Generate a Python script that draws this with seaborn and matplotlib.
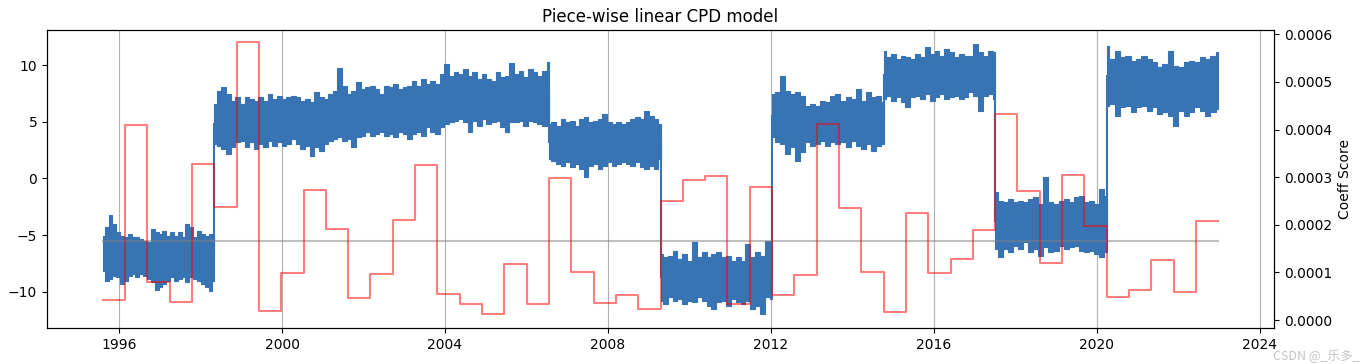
import numpy as np
import pandas as pd
import matplotlib
matplotlib.use("Agg")
import matplotlib.pyplot as plt
import matplotlib.dates as mdates
import seaborn as sns

# ---------------- data ----------------
start_date = "1995-08-08"
window_days = 200
n_windows = 50

# Coeff score per 200-day window (right axis)
coeff_score = [0.000042, 0.000409, 0.000080, 0.000038, 0.000328, 0.000238, 0.000583,
               0.000019, 0.000099, 0.000273, 0.000191, 0.000046, 0.000097, 0.000210,
               0.000326, 0.000055, 0.000033, 0.000013, 0.000118, 0.000033, 0.000298,
               0.000101, 0.000036, 0.000053, 0.000023, 0.000249, 0.000295, 0.000303,
               0.000033, 0.000280, 0.000053, 0.000094, 0.000412, 0.000236, 0.000101,
               0.000017, 0.000224, 0.000098, 0.000129, 0.000188, 0.000433, 0.000270,
               0.000119, 0.000305, 0.000197, 0.000048, 0.000062, 0.000126, 0.000058,
               0.000207]
threshold = 0.000166

# change points of the signal (window index where each regime starts/ends)
regime_edges = [0, 5, 20, 25, 30, 35, 40, 45, 50]

# upper / lower envelope of the noisy signal in each regime
hi_1 = [-5.06, -4.32, -3.20, -4.03, -4.76, -5.06, -5.20, -4.91, -5.20, -5.20, -5.35, -5.50,
        -5.65, -4.47, -4.76, -4.91, -4.62, -5.06, -4.76, -5.06, -4.76, -5.20, -4.03, -4.32,
        -5.20, -4.62, -4.91, -5.06, -4.91, -4.91]
lo_1 = [-8.15, -9.03, -8.88, -8.59, -8.73, -9.32, -9.03, -8.59, -8.44, -8.73, -8.44, -8.59,
        -8.88, -9.18, -9.85, -9.62, -9.32, -9.03, -8.73, -9.03, -8.88, -8.73, -9.18, -8.73,
        -8.88, -9.03, -9.32, -9.62, -9.91, -9.03]
hi_2 = [6.56, 7.74, 8.03, 7.45, 6.86, 7.15, 6.56, 7.15, 7.0, 6.86, 7.15, 6.86, 7.45, 7.0, 7.30,
        7.0, 7.15,
        7.30, 7.15, 6.86, 7.0, 6.71, 7.6, 7.15, 7.0, 7.45, 7.74, 9.74, 8.18, 7.45, 7.74, 8.47,
        7.89, 8.03, 8.18, 7.89, 7.45, 8.18, 8.03, 8.33, 7.89, 8.03, 8.18, 8.62, 8.18, 8.77,
        8.33, 8.62, 8.33, 9.21, 10.1, 9.06, 9.36,
        9.21, 9.65, 9.06, 9.36, 8.77, 9.21, 8.77, 8.62, 9.36, 8.92, 9.06, 10.15, 9.21, 9.50,
        8.92, 9.65, 9.36, 9.06, 9.50, 10.24]
lo_2 = [3.03, 2.89, 2.59, 2.15, 2.74, 3.18, 3.33, 2.74, 3.18, 2.59, 3.03, 2.74, 3.33, 2.89, 3.18,
        2.89, 3.03,
        3.47, 3.03, 2.59, 2.89, 2.0, 2.74, 2.44, 3.03, 3.33, 3.47, 3.62, 3.33, 3.47, 2.74, 3.62,
        3.77, 4.06, 3.77, 3.92, 4.06, 3.77, 3.92, 3.62, 4.06, 3.92, 3.47, 3.92, 4.06, 3.77,
        4.50, 4.06, 3.92, 4.50, 4.80, 4.94, 5.09,
        5.24, 4.94, 4.06, 5.09, 4.65, 5.24, 4.80, 4.94, 5.09, 4.50, 4.06, 4.94, 4.94, 5.09,
        4.65, 5.09, 4.94, 4.80, 4.65, 4.80]
hi_3 = [4.80, 4.94, 4.65, 5.24, 4.94, 5.09, 4.65, 5.24, 5.38, 4.94, 5.09, 5.24, 5.68, 4.94,
        4.80, 4.94, 4.80, 4.94, 5.24, 5.38, 5.24, 5.97, 5.53, 5.24, 4.80]
lo_3 = [1.71, 1.56, 1.27, 1.12, 1.41, 0.97, 1.27, 0.83, 0.09, 1.12, 1.27, 0.83, 1.12, 1.41,
        1.12, 1.27, 1.41, 1.27, 1.12, 1.41, 0.97, 0.83, 1.12, 0.83, 1.71]
hi_4 = [-6.67, -6.97, -6.82, -6.38, -7.12, -6.67, -7.26, -5.65, -6.97, -6.53, -6.97, -6.67,
        -6.53, -6.97, -6.82, -7.26, -6.97, -7.26, -5.80, -6.97, -6.53, -6.82, -5.50, -6.09]
lo_4 = [-10.79, -11.09, -10.50, -10.79, -10.65, -11.09, -10.79, -10.94, -10.50, -10.79, -11.24,
        -11.53, -10.94, -10.79, -11.24, -10.65, -10.94, -11.09, -10.79, -11.53, -11.24, -11.97,
        -10.50, -10.65]
hi_5 = [7.45, 7.60, 9.06, 7.74, 7.45, 7.60, 7.30, 6.42, 6.56, 6.42, 6.86, 6.71, 7.30, 7.45,
        6.86, 7.15, 7.0, 7.89, 6.86, 7.60, 7.15, 7.30, 6.71]
lo_5 = [3.62, 3.18, 3.03, 2.15, 2.74, 1.56, 2.30, 3.18, 2.89, 3.03, 3.33, 2.89, 3.18, 3.03,
        3.18, 2.74, 3.33, 2.89, 2.59, 3.03, 2.44, 2.89, 3.03]
hi_6 = [11.27, 10.68, 10.98, 10.54, 10.83, 10.68, 10.54, 10.98, 10.68, 11.57, 10.98, 11.27,
        10.83, 11.42, 11.13, 10.68, 10.98, 10.83, 10.83, 11.86, 11.13, 10.83, 11.27, 11.13]
lo_6 = [7.0, 7.30, 6.86, 7.15, 6.71, 6.27, 7.15, 7.30, 7.0, 7.45, 6.86, 7.15, 7.45, 7.0, 7.15,
        7.30, 7.0, 7.15, 7.59, 7.30, 5.97, 7.30, 7.45, 7.0]
hi_7 = [-1.23, -1.97, -2.12, -1.82, -2.12, -1.97, -2.12, -1.82, -1.67, -2.26, 0.09, -2.12,
        -2.26, -1.97, -1.82, -2.12, -1.67, -1.53, -2.12, -1.97, -2.26, -0.94, -1.53]
lo_7 = [-6.23, -6.97, -6.23, -6.53, -5.94, -6.23, -5.65, -6.53, -6.23, -6.82, -6.09, -6.53,
        -6.38, -5.94, -6.23, -6.09, -5.94, -6.38, -6.53, -6.38, -6.67, -6.97, -6.53]
hi_8 = [11.71, 10.54, 11.27, 10.68, 10.83, 10.39, 10.54, 10.83, 10.54, 10.24, 9.80, 10.10,
        11.27, 9.95, 9.80, 10.24, 10.39, 10.24, 10.68, 10.54, 10.83, 11.13]
lo_8 = [6.42, 6.56, 5.53, 6.27, 6.42, 5.83, 6.27, 6.42, 5.97, 6.27, 5.68, 5.83, 5.53, 4.65,
        5.97, 5.53, 5.83, 6.27, 5.97, 5.53, 5.83, 6.12]

title = "Piece-wise linear CPD model"
right_label = "Coeff Score"
watermark = "CSDN @_乐多_"

# ---------------- figure ----------------
BLUE = "#3874b4"
his = [hi_1, hi_2, hi_3, hi_4, hi_5, hi_6, hi_7, hi_8]
los = [lo_1, lo_2, lo_3, lo_4, lo_5, lo_6, lo_7, lo_8]

edges = pd.date_range(start_date, periods=n_windows + 1, freq=f"{window_days}D")
edge_num = mdates.date2num(edges.to_pydatetime())

fig = plt.figure(figsize=(13.62, 3.64), dpi=100)
ax = fig.add_axes([0.0345, 0.0989, 0.9009, 0.8187])

prev_end = None
for k, (hi, lo) in enumerate(zip(his, los)):
    t0 = edge_num[regime_edges[k]]
    t1 = edge_num[regime_edges[k + 1]]
    tn = np.linspace(t0, t1, len(hi))
    td = np.array(mdates.num2date(tn))
    ax.fill_between(td, lo, hi, step="mid", color=BLUE, linewidth=0.8,
                    edgecolor=BLUE, zorder=2)
    mid_first = (hi[0] + lo[0]) / 2
    if prev_end is not None:
        ax.plot([td[0], td[0]], [prev_end, mid_first], color=BLUE, lw=1.5, zorder=2)
    prev_end = (hi[-1] + lo[-1]) / 2

ax.set_ylim(-13.2, 13.1)
ax.set_xlim(mdates.num2date(edge_num[0] - 0.05 * (edge_num[-1] - edge_num[0])),
            mdates.num2date(edge_num[-1] + 0.05 * (edge_num[-1] - edge_num[0])))
ax.xaxis.set_major_locator(mdates.YearLocator(4))
ax.xaxis.set_major_formatter(mdates.DateFormatter("%Y"))
ax.grid(axis="x", color="#b0b0b0", lw=0.8)
ax.set_axisbelow(True)
ax.set_title(title, fontsize=12)
ax.tick_params(labelsize=10)

ax2 = ax.twinx()
score_df = pd.DataFrame({"date": edges, "score": coeff_score + [coeff_score[-1]]})
sns.lineplot(data=score_df, x="date", y="score", ax=ax2, color="red", alpha=0.5,
             lw=1.5, drawstyle="steps-post", zorder=3)
thr_df = pd.DataFrame({"date": [edges[0], edges[-1]], "thr": [threshold, threshold]})
sns.lineplot(data=thr_df, x="date", y="thr", ax=ax2, color="grey", alpha=0.5, lw=1.5)
ax2.set_ylim(-0.0000168, 0.000609)
ax2.set_ylabel(right_label, fontsize=10)
ax2.set_xlabel("")
ax.set_xlabel("")
ax2.tick_params(labelsize=10)

fig.text(0.998, 0.004, watermark, ha="right", va="bottom", color="#c4c4c4", fontsize=9,
         family=["Noto Sans CJK SC", "DejaVu Sans"])

fig.savefig("out.png", dpi=100)
